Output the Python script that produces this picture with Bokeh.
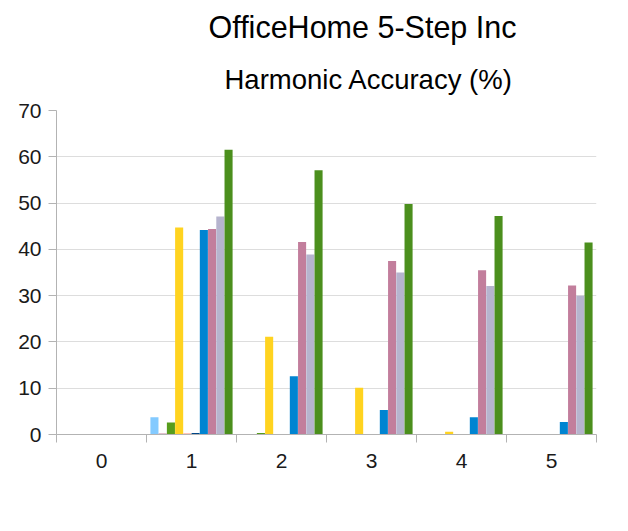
from bokeh.plotting import figure
from bokeh.models import ColumnDataSource, FixedTicker, Title, Range1d
from bokeh.transform import dodge
from bokeh.embed import file_html
from bokeh.resources import INLINE

steps = [0, 1, 2, 3, 4, 5]
step_labels = ["0", "1", "2", "3", "4", "5"]

s1 = [0.1, 3.7, 0.1, 0.1, 0.1, 0.1]
s2 = [0.1, 0.2, 0.1, 0.1, 0.1, 0.1]
s3 = [0.1, 2.6, 0.3, 0.1, 0.1, 0.1]
s4 = [0.1, 44.7, 21.1, 10.1, 0.6, 0.1]
s5 = [0.1, 0.2, 0.1, 0.1, 0.1, 0.1]
s6 = [0.1, 0.3, 0.1, 0.1, 0.1, 0.1]
s7 = [0.1, 44.2, 12.6, 5.3, 3.7, 2.7]
s8 = [0.1, 44.4, 41.6, 37.5, 35.5, 32.2]
s9 = [0.1, 47.1, 38.9, 35.0, 32.1, 30.0]
s10 = [0.1, 61.5, 57.1, 49.8, 47.2, 41.5]

series = [s1, s2, s3, s4, s5, s6, s7, s8, s9, s10]
colors = ["#83CAFF", "#C5829B", "#579D1C", "#FFD320", "#FF8A70",
          "#004586", "#0084D1", "#C27E9C", "#B6B4CE", "#4B8F1D"]

data = {"step": steps}
for i, s in enumerate(series):
    data[f"s{i+1}"] = s
src = ColumnDataSource(data)

p = figure(frame_width=540, frame_height=324, output_backend="svg",
           toolbar_location=None, x_range=Range1d(-0.5, 5.5), title=None,
           y_range=Range1d(0, 70), min_border_left=56, min_border_right=16,
           min_border_top=110, min_border_bottom=70)
p.outline_line_color = None
p.background_fill_color = "white"
p.border_fill_color = "white"

bw = 0.0915
for i in range(10):
    off = (i - 4.5) * bw
    p.vbar(x=dodge("step", off), top=f"s{i+1}", width=bw * 0.98,
           bottom=0, source=src, fill_color=colors[i], line_color=None)

# y axis
p.yaxis.ticker = FixedTicker(ticks=list(range(0, 71, 10)))
p.yaxis.axis_line_color = "#B3B3B3"
p.yaxis.major_tick_line_color = "#B3B3B3"
p.yaxis.major_tick_out = 8
p.yaxis.major_tick_in = 0
p.yaxis.minor_tick_line_color = None
p.yaxis.major_label_standoff = 7
p.yaxis.major_label_text_font = "Liberation Sans"
p.yaxis.major_label_text_font_size = "21px"
p.yaxis.major_label_text_color = "#1a1a1a"
p.ygrid.grid_line_color = "#DDDDDD"
p.ygrid.ticker = FixedTicker(ticks=list(range(10, 71, 10)))

# x axis
p.xaxis.ticker = FixedTicker(ticks=steps,
                             minor_ticks=[x - 0.5 for x in steps] + [5.5])
p.xaxis.major_label_overrides = {s: l for s, l in zip(steps, step_labels)}
p.xaxis.axis_line_color = "#B3B3B3"
p.xaxis.major_tick_line_color = None
p.xaxis.major_tick_out = 0
p.xaxis.major_tick_in = 0
p.xaxis.minor_tick_line_color = "#B3B3B3"
p.xaxis.minor_tick_out = 8
p.xaxis.minor_tick_in = 0
p.xaxis.major_label_standoff = 11
p.xaxis.major_label_text_font = "Liberation Sans"
p.xaxis.major_label_text_font_size = "21px"
p.xaxis.major_label_text_color = "#1a1a1a"
p.xgrid.grid_line_color = None

sub = Title(text="Harmonic Accuracy (%)", align="left", offset=168,
            text_font="Liberation Sans", text_font_size="27.5px",
            text_font_style="normal", text_color="#000000", standoff=31)
main = Title(text="OfficeHome 5-Step Inc", align="left", offset=152,
             text_font="Liberation Sans", text_font_size="30.5px",
             text_font_style="normal", text_color="#000000", standoff=6)
p.add_layout(sub, "above")
p.add_layout(main, "above")

open("out.html", "w").write(file_html(p, INLINE))
